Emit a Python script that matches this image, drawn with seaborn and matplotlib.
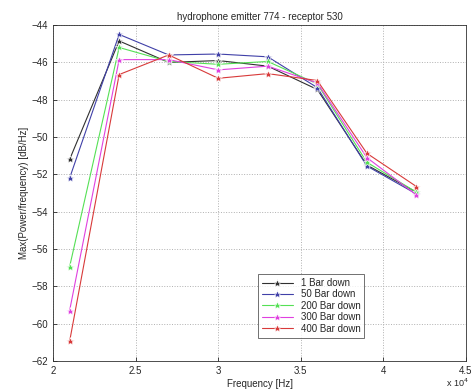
import pandas as pd
import seaborn as sns
import matplotlib.pyplot as plt
from matplotlib.ticker import FuncFormatter, MultipleLocator

freq = [21000, 24000, 27000, 30000, 33000, 36000, 39000, 42000]
series = ['1 Bar down', '50 Bar down', '200 Bar down', '300 Bar down', '400 Bar down']
bar_1 = [-51.2, -44.85, -46.0, -45.9, -46.2, -47.45, -51.5, -52.95]
bar_50 = [-52.2, -44.5, -45.6, -45.55, -45.7, -47.35, -51.55, -53.05]
bar_200 = [-56.95, -45.2, -45.95, -46.1, -45.95, -47.15, -51.35, -52.95]
bar_300 = [-59.3, -45.85, -45.85, -46.4, -46.2, -47.1, -51.1, -53.1]
bar_400 = [-60.95, -46.65, -45.6, -46.85, -46.6, -46.97, -50.87, -52.65]
colors = ['#303030', '#4040a8', '#55e055', '#e040e0', '#d83a3a']

rows = []
for name, vals in zip(series, [bar_1, bar_50, bar_200, bar_300, bar_400]):
    for f, v in zip(freq, vals):
        rows.append({'freq': f, 'value': v, 'series': name})
df = pd.DataFrame(rows)

sns.set_theme(style="ticks")
plt.rcParams['font.family'] = ['Liberation Sans', 'DejaVu Sans']
fig = plt.figure(figsize=(4.74, 3.92), dpi=100)
ax = fig.add_axes([0.112, 0.079, 0.871, 0.857])
sns.lineplot(data=df, x='freq', y='value', hue='series', hue_order=series,
             palette=colors, marker='*', markersize=6, markeredgewidth=0.4,
             linewidth=0.8, ax=ax)

ax.set_xlim(20000, 45000)
ax.set_ylim(-62, -44)
ax.xaxis.set_major_locator(MultipleLocator(5000))
ax.yaxis.set_major_locator(MultipleLocator(2))
ax.xaxis.set_major_formatter(FuncFormatter(lambda x, p: '%g' % (x / 1e4)))
ax.grid(True, linestyle=':', color='#b0b0b0', linewidth=0.7)
ax.tick_params(labelsize=7, direction='in', length=3, width=0.6)
for s in ax.spines.values():
    s.set_linewidth(0.6)
    s.set_color('#303030')
ax.set_title('hydrophone emitter 774 - receptor 530', fontsize=7, pad=4)
ax.set_xlabel('Frequency [Hz]', fontsize=7, labelpad=2)
ax.set_ylabel('Max(Power/frequency) [dB/Hz]', fontsize=7, labelpad=2)
fig.text(0.965, 0.008, 'x 10$^4$', fontsize=6.5, ha='center', va='bottom')
leg = ax.legend(loc='lower left', bbox_to_anchor=(0.484, 0.055), fontsize=7,
                frameon=True, fancybox=False, edgecolor='#303030',
                handlelength=3.2, borderpad=0.4, labelspacing=0.15)
leg.get_frame().set_linewidth(0.6)
fig.savefig('out.png', dpi=100)
